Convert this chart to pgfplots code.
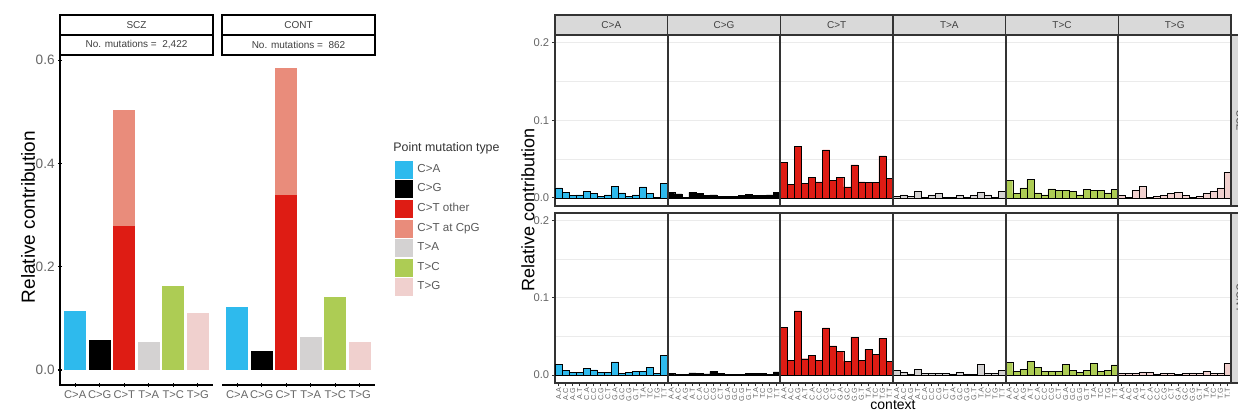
\documentclass[border=0pt]{standalone}
\usepackage{fontspec}
\setmainfont{Liberation Sans}
\usepackage{pgfplots}
\usepackage{pgfplotstable}
\pgfplotsset{compat=1.18}

\definecolor{cCA}{HTML}{2EBAED}
\definecolor{cCG}{HTML}{000000}
\definecolor{cCT}{HTML}{DE1C14}
\definecolor{cCpG}{HTML}{E98C7B}
\definecolor{cTA}{HTML}{D4D2D2}
\definecolor{cTC}{HTML}{ADCC54}
\definecolor{cTG}{HTML}{F0D0CE}

\newcommand\fs[1]{\fontsize{#1}{#1}\selectfont}

% left: relative contribution per mutation type
\pgfplotstableread{
x CA CG CTo CpG TA TC TG
1 0.1135 0 0 0 0 0 0
2 0 0.058 0 0 0 0 0
3 0 0 0.279 0.225 0 0 0
4 0 0 0 0 0.0545 0 0
5 0 0 0 0 0 0.162 0
6 0 0 0 0 0 0 0.110
}\sczsum
\pgfplotstableread{
x CA CG CTo CpG TA TC TG
1 0.123 0 0 0 0 0 0
2 0 0.037 0 0 0 0 0
3 0 0 0.339 0.245 0 0 0
4 0 0 0 0 0.064 0 0
5 0 0 0 0 0 0.1415 0
6 0 0 0 0 0 0 0.054
}\contsum

% right: 96 trinucleotide profile
\pgfplotstableread{
ctx CA CG CT TA TC TG
A.A 0.013 0.007 0.046 0.002 0.023 0.0035
A.C 0.007 0.005 0.017 0.004 0.0055 0.001
A.G 0.003 0.001 0.0665 0.002 0.013 0.010
A.T 0.004 0.007 0.0185 0.0085 0.0235 0.015
C.A 0.0085 0.0055 0.026 0.001 0.0065 0.001
C.C 0.0055 0.003 0.0205 0.004 0.004 0.002
C.G 0.002 0.004 0.062 0.0055 0.0115 0.003
C.T 0.004 0.002 0.023 0.001 0.0095 0.0055
G.A 0.015 0.002 0.026 0.001 0.0095 0.007
G.C 0.0065 0.002 0.014 0.0035 0.0085 0.0035
G.G 0.002 0.003 0.0425 0.001 0.004 0.001
G.T 0.004 0.0045 0.0205 0.003 0.011 0.002
T.A 0.014 0.003 0.020 0.007 0.010 0.0055
T.C 0.0055 0.003 0.020 0.004 0.0095 0.0085
T.G 0.001 0.004 0.054 0.001 0.0065 0.013
T.T 0.0185 0.0075 0.025 0.0085 0.011 0.033
}\sczctx
\pgfplotstableread{
ctx CA CG CT TA TC TG
A.A 0.0137 0.0017 0.062 0.0055 0.016 0.002
A.C 0.0055 0.0005 0.019 0.004 0.005 0.002
A.G 0.003 0.0005 0.083 0.0013 0.0075 0.002
A.T 0.003 0.0025 0.021 0.007 0.018 0.004
C.A 0.0085 0.002 0.025 0.002 0.0095 0.003
C.C 0.0065 0.0013 0.019 0.002 0.005 0.0013
C.G 0.003 0.0047 0.061 0.002 0.005 0.002
C.T 0.003 0.002 0.0375 0.002 0.005 0.002
G.A 0.017 0.0005 0.031 0.0013 0.0137 0.0005
G.C 0.002 0.0005 0.0175 0.003 0.0055 0.002
G.G 0.003 0.0005 0.049 0.0013 0.0035 0.0025
G.T 0.005 0.0017 0.019 0.0005 0.0055 0.002
T.A 0.005 0.0017 0.033 0.0137 0.015 0.005
T.C 0.0095 0.0017 0.027 0.002 0.005 0.002
T.G 0.002 0.0005 0.0475 0.002 0.0055 0.002
T.T 0.025 0.004 0.0175 0.0055 0.013 0.015
}\contctx

\def\ctx{A.A,A.C,A.G,A.T,C.A,C.C,C.G,C.T,G.A,G.C,G.G,G.T,T.A,T.C,T.G,T.T}
\edef\allctx{\ctx,\ctx,\ctx,\ctx,\ctx,\ctx}

\pgfplotsset{
  leftpanel/.style={
    scale only axis, width=76.5pt, height=165pt, anchor=south west,
    ybar stacked, bar width=0.9, xmin=0.38, xmax=6.62, ymin=-0.029, ymax=0.61,
    xtick={1,...,6}, xticklabels={C>A,C>G,C>T,T>A,T>C,T>G},
    tick align=outside, major tick length=2pt, tick style={black, line width=0.6pt},
    xticklabel style={font=\fs{5.6}, text=black!60, inner sep=1.5pt},
    yticklabel style={font=\fs{6.8}, text=black!60, inner sep=1.5pt,
      /pgf/number format/.cd, fixed, fixed zerofill, precision=1, assume math mode=true},
    every axis plot/.append style={draw=none},
  },
  rightpanel/.style={
    scale only axis, width=338pt, anchor=south west,
    xmin=0.5, xmax=96.5, ymin=-0.0105, ymax=0.21, ybar,
    ytick={0,0.1,0.2}, minor ytick={0.05,0.15},
    ymajorgrids, yminorgrids,
    major grid style={black!8, line width=0.5pt},
    minor grid style={black!8, line width=0.3pt},
    axis line style={black!80, line width=0.8pt},
    tick pos=left, tick align=outside, major tick length=1.5pt, minor tick length=0pt,
    tick style={black!80, line width=0.4pt},
    yticklabel style={font=\fs{5.6}, text=black!60, inner sep=1.2pt,
      /pgf/number format/.cd, fixed, fixed zerofill, precision=1, assume math mode=true},
  },
  rbar/.style={bar shift=0pt, bar width=1, draw=black, line width=0.2pt},
}
% panel separators between the six mutation types
\newcommand\seps{%
  \draw[black!80, line width=0.9pt] (axis cs:16.5,-0.0105) -- (axis cs:16.5,0.21);
  \draw[black!80, line width=0.9pt] (axis cs:32.5,-0.0105) -- (axis cs:32.5,0.21);
  \draw[black!80, line width=0.9pt] (axis cs:48.5,-0.0105) -- (axis cs:48.5,0.21);
  \draw[black!80, line width=0.9pt] (axis cs:64.5,-0.0105) -- (axis cs:64.5,0.21);
  \draw[black!80, line width=0.9pt] (axis cs:80.5,-0.0105) -- (axis cs:80.5,0.21);}

\begin{document}
\begin{tikzpicture}[x=1pt,y=1pt]
\useasboundingbox (0,0) rectangle (619,206.5);

% ---- left: SCZ
\begin{axis}[leftpanel, at={(30pt,14pt)},
  axis x line=bottom, axis y line=left,
  x axis line style={-, line width=0.8pt}, y axis line style={-, line width=0.8pt},
  ytick={0,0.2,0.4,0.6},
  legend style={at={(axis description cs:2.19,0.682)}, anchor=north west,
    draw=none, fill=none, inner sep=0pt, row sep=0.2pt, font=\fs{5.8},
    text=black!65, cells={anchor=west}},
  legend image code/.code={\path[#1] (0pt,-4.5pt) rectangle (9pt,4.5pt);},
  ]
\addplot[fill=cCA] table[x=x,y=CA]\sczsum; \addlegendentry{C>A}
\addplot[fill=cCG] table[x=x,y=CG]\sczsum; \addlegendentry{C>G}
\addplot[fill=cCT] table[x=x,y=CTo]\sczsum; \addlegendentry{C>T other}
\addplot[fill=cCpG] table[x=x,y=CpG]\sczsum; \addlegendentry{C>T at CpG}
\addplot[fill=cTA] table[x=x,y=TA]\sczsum; \addlegendentry{T>A}
\addplot[fill=cTC] table[x=x,y=TC]\sczsum; \addlegendentry{T>C}
\addplot[fill=cTG] table[x=x,y=TG]\sczsum; \addlegendentry{T>G}
\end{axis}

% ---- left: CONT
\begin{axis}[leftpanel, at={(111pt,14pt)},
  axis x line=bottom, axis y line=none, x axis line style={-, line width=0.8pt},
  ytick=\empty]
\addplot[fill=cCA] table[x=x,y=CA]\contsum;
\addplot[fill=cCG] table[x=x,y=CG]\contsum;
\addplot[fill=cCT] table[x=x,y=CTo]\contsum;
\addplot[fill=cCpG] table[x=x,y=CpG]\contsum;
\addplot[fill=cTA] table[x=x,y=TA]\contsum;
\addplot[fill=cTC] table[x=x,y=TC]\contsum;
\addplot[fill=cTG] table[x=x,y=TG]\contsum;
\end{axis}

% left y axis line of the SCZ panel
\draw[black, line width=1pt] (30.2,13.6) -- (30.2,179);

% left strips
\foreach \xa/\lab/\num in {30/SCZ/{2,422},111/CONT/862}{
  \draw[line width=0.75pt, fill=white] (\xa,189) rectangle ++(76.5,10);
  \draw[line width=0.75pt, fill=white] (\xa,179) rectangle ++(76.5,10);
  \node[font=\fs{5}, text=black!75] at (\xa+38.25,194) {\lab};
  \node[font=\fs{5}, text=black!75] at (\xa+38.25,184) {No. mutations =\ \ \num};
}
\node[font=\fs{9.5}, rotate=90] at (14,98) {Relative contribution};
\node[font=\fs{6.2}, anchor=west, inner sep=0pt, text=black!80] at (196.5,132.5) {Point mutation type};

% ---- right: SCZ row
\begin{axis}[rightpanel, at={(277.5pt,103.5pt)}, height=85.5pt, xtick=\empty]
\addplot[rbar, fill=cCA] table[x expr=\coordindex+1,  y=CA]\sczctx;
\addplot[rbar, fill=cCG] table[x expr=\coordindex+17, y=CG]\sczctx;
\addplot[rbar, fill=cCT] table[x expr=\coordindex+33, y=CT]\sczctx;
\addplot[rbar, fill=cTA] table[x expr=\coordindex+49, y=TA]\sczctx;
\addplot[rbar, fill=cTC] table[x expr=\coordindex+65, y=TC]\sczctx;
\addplot[rbar, fill=cTG] table[x expr=\coordindex+81, y=TG]\sczctx;
\seps
\end{axis}

% ---- right: CONT row
\begin{axis}[rightpanel, at={(277.5pt,15pt)}, height=85pt,
  xtick={1,...,96}, xticklabels/.expand once=\allctx,
  xticklabel style={rotate=90, anchor=east, font=\fs{3.6}, text=black!60, inner sep=0.8pt}]
\addplot[rbar, fill=cCA] table[x expr=\coordindex+1,  y=CA]\contctx;
\addplot[rbar, fill=cCG] table[x expr=\coordindex+17, y=CG]\contctx;
\addplot[rbar, fill=cCT] table[x expr=\coordindex+33, y=CT]\contctx;
\addplot[rbar, fill=cTA] table[x expr=\coordindex+49, y=TA]\contctx;
\addplot[rbar, fill=cTC] table[x expr=\coordindex+65, y=TC]\contctx;
\addplot[rbar, fill=cTG] table[x expr=\coordindex+81, y=TG]\contctx;
\seps
\end{axis}

% right strips
\foreach \lab [count=\i from 0] in {C>A,C>G,C>T,T>A,T>C,T>G}{
  \draw[black!80, line width=0.6pt, fill=black!15] (277.5+\i*56.333,189) rectangle ++(56.333,10);
  \node[font=\fs{5}, text=black!75] at (277.5+\i*56.333+28.17,194) {\lab};
}
\draw[black!80, line width=0.6pt, fill=black!15] (615.5,103.5) rectangle (640,189);
\draw[black!80, line width=0.6pt, fill=black!15] (615.5,15) rectangle (640,100);
\node[font=\fs{5}, text=black!75, rotate=-90] at (620,146) {SCZ};
\node[font=\fs{5}, text=black!75, rotate=-90] at (620,57.5) {CONT};
\node[font=\fs{9}, rotate=90] at (264,101.5) {Relative contribution};
\node[font=\fs{7}] at (446.5,4.2) {context};
\end{tikzpicture}
\end{document}
